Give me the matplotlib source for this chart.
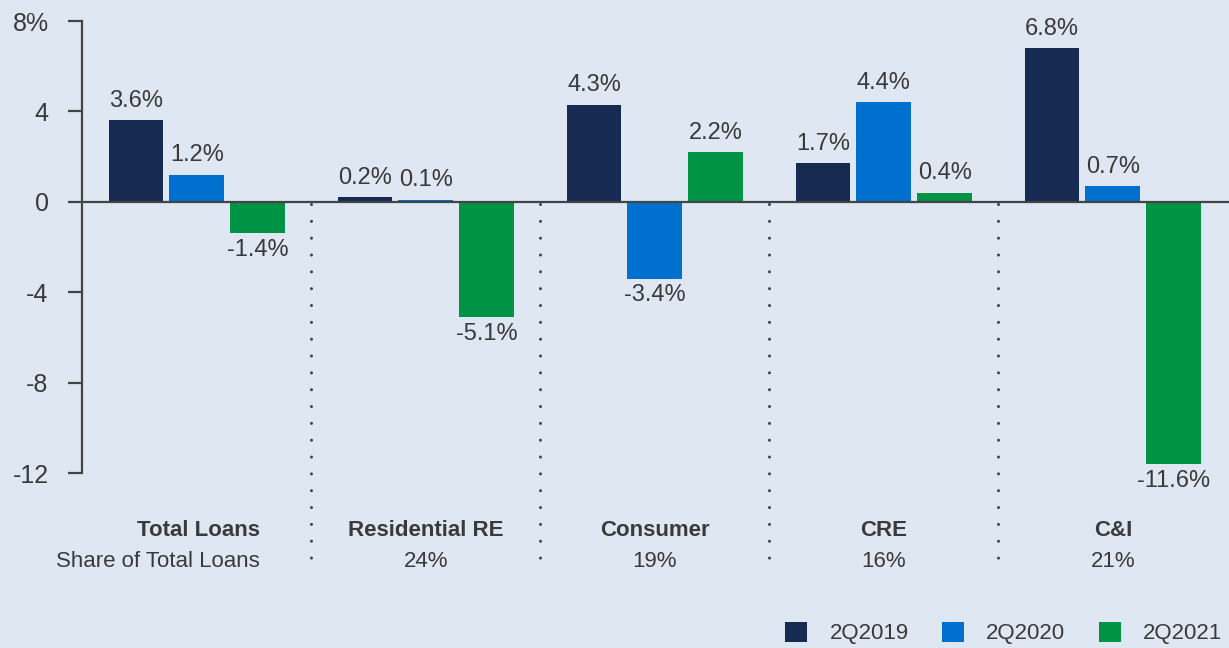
import matplotlib.pyplot as plt
from matplotlib.patches import Patch

categories = ["Total Loans", "Residential RE", "Consumer", "CRE", "C&I"]
shares = ["Share of Total Loans", "24%", "19%", "16%", "21%"]
series = ["2Q2019", "2Q2020", "2Q2021"]
values = {
    "2Q2019": [3.6, 0.2, 4.3, 1.7, 6.8],
    "2Q2020": [1.2, 0.1, -3.4, 4.4, 0.7],
    "2Q2021": [-1.4, -5.1, 2.2, 0.4, -11.6],
}
colors = ["#172a52", "#0070cf", "#009245"]
yticks = [8, 4, 0, -4, -8, -12]
ytick_labels = ["8%", "4", "0", "-4", "-8", "-12"]

bg = "#dfe7f3"
text_c = "#3a3a3a"
axis_c = "#444444"

plt.rcParams['font.family'] = ['Liberation Sans', 'DejaVu Sans']

fig = plt.figure(figsize=(12.29, 6.48), dpi=100, facecolor=bg)
ax = fig.add_axes([0.0667, 0.270, 0.9333, 0.6975], facecolor=bg)

offsets = [-0.266, 0.0, 0.266]
width = 0.24
x = range(len(categories))
for s, off, col in zip(series, offsets, colors):
    for xi, v in zip(x, values[s]):
        ax.bar(xi + off, v, width=width, color=col, zorder=2)
        ax.annotate(f"{v:.1f}%", (xi + off, v),
                    xytext=(0, 6 if v >= 0 else -4), textcoords="offset points",
                    ha="center", va="bottom" if v >= 0 else "top",
                    fontsize=17, color=text_c)

ax.set_xlim(-0.502, 4.507)
ax.set_ylim(-12, 8)
ax.axhline(0, color=axis_c, lw=1.6, zorder=3)

for sp in ["top", "right", "bottom"]:
    ax.spines[sp].set_visible(False)
ax.spines["left"].set_color(axis_c)
ax.spines["left"].set_linewidth(1.6)
ax.spines["left"].set_bounds(-12, 8)
ax.set_xticks([])
ax.set_yticks(yticks)
ax.set_yticklabels(ytick_labels)
ax.tick_params(axis="y", length=10, width=1.6, color=axis_c,
               labelsize=18, labelcolor=text_c, pad=14)

# dotted group separators
for sep in [0.5, 1.5, 2.5, 3.5]:
    ax.plot([sep, sep], [-0.1, -16.4], color=axis_c, lw=2.2,
            linestyle=(0, (0.01, 5.5)), dash_capstyle="round",
            clip_on=False, zorder=1)

# category labels and shares
for i, (cat, sh) in enumerate(zip(categories, shares)):
    if i == 0:
        xp, ha = 0.275, "right"
    else:
        xp, ha = i, "center"
    ax.text(xp, -14.55, cat, ha=ha, va="center", fontsize=16,
            fontweight="bold", color=text_c, clip_on=False)
    ax.text(xp, -15.9, sh, ha=ha, va="center", fontsize=16,
            color=text_c, clip_on=False)

handles = [Patch(facecolor=c, edgecolor="none") for c in colors]
fig.legend(handles, series, loc="center right", bbox_to_anchor=(1.011, 0.023),
           ncol=3, frameon=False, fontsize=16, handlelength=1.0,
           handleheight=1.0, handletextpad=1.0, columnspacing=1.5,
           labelcolor=text_c)

fig.savefig("out.png", dpi=100, facecolor=bg)
